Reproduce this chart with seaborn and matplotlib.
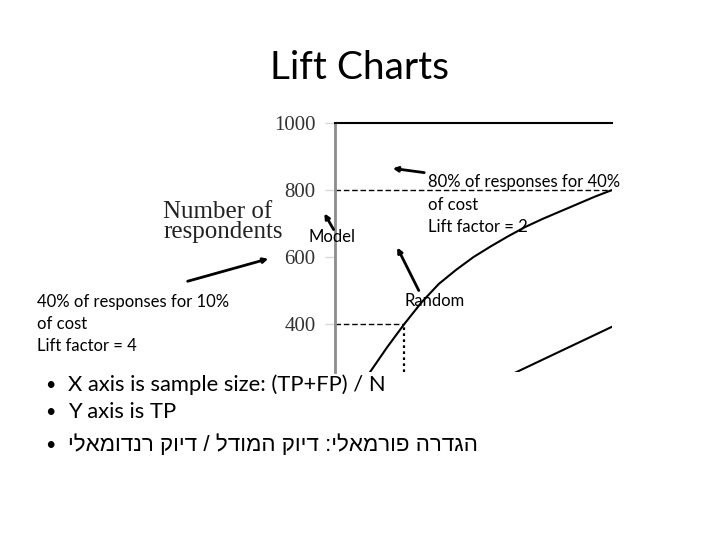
"""
Lift chart slide: model vs random respondents with lift annotations.
"""
import matplotlib
matplotlib.use('Agg')
import matplotlib.pyplot as plt
import seaborn as sns

# Data
model_cost = [2.5, 5, 7.5, 10, 12.5, 15, 17.5, 20, 22.5, 25, 27.5, 30, 32.5, 35, 37.5, 40]
model_resp = [150, 255, 330, 400, 465, 520, 562, 600, 632, 662, 690, 714, 736, 758, 780, 800]
random_cost = [0, 40]
random_resp = [0, 392]
lift_cost = [10, 40]
lift_resp = [400, 800]
y_ticks = [400, 600, 800, 1000]

title = 'Lift Charts'
bullets = [
    'X axis is sample size: (TP+FP) / N',
    'Y axis is TP',
    'הגדרה פורמאלי: דיוק המודל / דיוק רנדומאלי',
]

sns.set_theme(style='white')
plt.rcParams['font.family'] = ['Lato', 'DejaVu Sans']

W, H = 720, 540
fig = plt.figure(figsize=(7.2, 5.4), dpi=100)
fig.patch.set_facecolor('white')


def fpos(px, py):
    # slide pixel position (top-left origin) -> figure fraction
    return px / W, 1 - py / H


# Chart area (cropped picture on the slide)
ax = fig.add_axes([335 / W, 1 - 372 / H, 277 / W, 249 / H])
ax.set_xlim(0, 40)
ax.set_ylim(257, 1000)
ax.set_facecolor('white')

sns.lineplot(x=model_cost, y=model_resp, ax=ax, color='black', linewidth=1.5)
sns.lineplot(x=random_cost, y=random_resp, ax=ax, color='black', linewidth=1.5)

ax.hlines(lift_resp, 0, lift_cost, colors='black', linewidth=1, linestyles=(0, (4, 2)))
ax.vlines(lift_cost[0], 257, lift_resp[0], colors='black', linewidth=1.6,
          linestyles=(0, (1.2, 1.5)))

for side in ['right', 'bottom']:
    ax.spines[side].set_visible(False)
ax.spines['left'].set_color('#8c8c8c')
ax.spines['left'].set_linewidth(2)
ax.spines['top'].set_color('black')
ax.spines['top'].set_linewidth(1.5)

ax.set_xticks([])
ax.set_yticks(y_ticks)
ax.set_yticklabels([str(v) for v in y_ticks], family='Liberation Serif',
                   fontsize=15, color='#333333')
ax.tick_params(axis='y', left=True, length=7, width=1, color='#d8d8d8', pad=7)

# Axis label from the original picture
fig.text(*fpos(163, 222), 'Number of\nrespondents', family='Liberation Serif',
         fontsize=18, color='#222222', ha='left', va='center', linespacing=0.9)

# Title
fig.text(*fpos(360, 68), title, fontsize=28, ha='center', va='center', color='black')

# Annotation texts, one line at a time
ann_kw = dict(fontsize=12, color='black', ha='left', va='center')
note_right = ['80% of responses for 40%', 'of cost', 'Lift factor = 2']
note_left = ['40% of responses for 10%', 'of cost', 'Lift factor = 4']
for i, line in enumerate(note_right):
    fig.text(*fpos(428, 182 + 22.5 * i), line, **ann_kw)
for i, line in enumerate(note_left):
    fig.text(*fpos(37, 302 + 22 * i), line, **ann_kw)
fig.text(*fpos(309, 237), 'Model', **ann_kw)
fig.text(*fpos(404, 301), 'Random', **ann_kw)

# Arrows (tail -> head, slide pixels)
arrows = [
    ((427, 173), (390, 168)),
    ((335, 232), (323, 211)),
    ((185, 282), (271, 258)),
    ((420, 293), (396, 245)),
]
for tail, head in arrows:
    fig.add_artist(matplotlib.patches.FancyArrowPatch(
        fpos(*tail), fpos(*head), transform=fig.transFigure,
        arrowstyle='-|>', mutation_scale=7, linewidth=2, color='black'))

# Bullets
bullet_y = [385, 412, 445]
for i, (text, y) in enumerate(zip(bullets, bullet_y)):
    fig.text(*fpos(45, y), '•', fontsize=13, ha='left', va='center', color='black')
    if i == 2:
        # right-to-left line: matplotlib lays glyphs out left to right
        fig.text(*fpos(68, y), text[::-1], fontsize=16.1, ha='left', va='center',
                 color='black', family=['Liberation Sans'])
    else:
        fig.text(*fpos(68, y), text, fontsize=15.8, ha='left', va='center',
                 color='black')

fig.savefig('out.png', dpi=100, facecolor='white')
